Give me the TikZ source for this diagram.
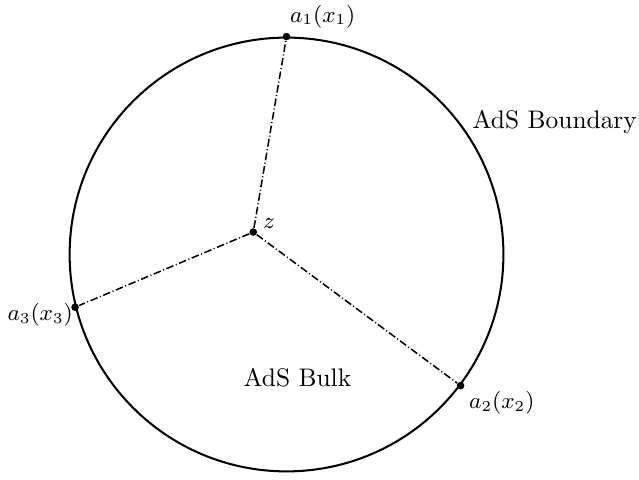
\documentclass[tikz,border=0pt]{standalone}
\begin{document}
\begin{tikzpicture}[
  bnd/.style={thick},
  ray/.style={densely dashdotted,semithick},
  pt/.style={circle,fill=black,inner sep=0pt,minimum size=3pt},
  lbl/.style={inner sep=2pt,font=\small}
]
\useasboundingbox (-3.963,-3.119) rectangle (4.875,3.52);
\node[circle,draw,thick,minimum size=6cm,inner sep=0pt] (C) at (0,0) {};
\coordinate (zc) at (-0.46,0.31);
\node[pt] (z) at (zc) {};
\node[pt] (a1) at (C.90) {};
\node[pt] (a2) at (C.-37.7) {};
\node[pt] (a3) at (C.194) {};
\draw[ray] (z) -- (a1);
\draw[ray] (z) -- (a2);
\draw[ray] (z) -- (a3);
\node[lbl,anchor=south west] (l1) at ([xshift=-2pt]a1.north east) {$a_1(x_1)$};
\node[lbl,anchor=north west] (l2) at ([yshift=1pt]a2.south east) {$a_2(x_2)$};
\node[lbl,anchor=east] (l3) at ([xshift=3pt,yshift=-3pt]a3.west) {$a_3(x_3)$};
\node[lbl,anchor=south west] (lz) at ([xshift=0.5pt,yshift=-2pt]z.north east) {$z$};
\node (bulk) at (0.15,-1.71) {AdS Bulk};
\node (boundary) at (3.71,1.83) {AdS Boundary};
\end{tikzpicture}
\end{document}
